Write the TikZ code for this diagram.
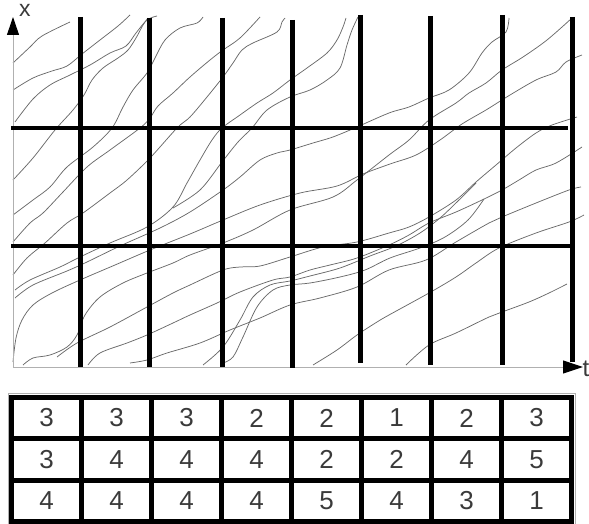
\documentclass[tikz,border=0pt]{standalone}
\usepackage{fontspec}
\setmainfont{Liberation Sans}
\usetikzlibrary{arrows.meta}
\definecolor{txt}{HTML}{3A3A3A}
\definecolor{crv}{HTML}{6A6A6A}
\definecolor{axc}{HTML}{B0B0B0}
\begin{document}
\begin{tikzpicture}[x=1pt,y=-1pt,
  crvline/.style={draw=crv,line width=0.75pt,smooth,tension=0.55},
  thickv/.style={draw=black,line width=5pt},
  thickh/.style={draw=black,line width=4.5pt},
  cell/.style={draw=black,line width=5pt,minimum width=70pt,minimum height=41.5pt,
    inner sep=0pt,font=\fontsize{26}{26}\selectfont,text=txt,anchor=center}]
\useasboundingbox (0,0) rectangle (589,524);
% curves
\draw[crvline] plot coordinates {(13,63) (30,47) (42,36) (70,22)};
\draw[crvline] plot coordinates {(13,90) (33,78) (52,71) (67,66) (82,54) (100,40) (118,26) (130,15)};
\draw[crvline] plot coordinates {(15,122) (33,99) (50,85) (70,75) (90,65) (110,53) (126,46) (136,33) (147,20) (157,16)};
\draw[crvline] plot coordinates {(13,180) (33,158) (55,130) (73,110) (84,95) (92,80) (103,68) (118,58) (128,50) (136,38) (143,25) (148,18)};
\draw[crvline] plot coordinates {(13,215) (33,200) (50,187) (67,167) (93,147) (112,128) (123,107) (133,90) (147,73) (155,58) (165,40) (180,28) (197,23) (203,17)};
\draw[crvline] plot coordinates {(13,242) (30,223) (43,213) (63,192) (87,167) (110,150) (140,128) (150,118) (158,106) (173,93) (190,77) (210,60) (223,50) (240,38) (260,17)};
\draw[crvline] plot coordinates {(13,275) (27,258) (45,243) (67,223) (83,213) (110,193) (127,180) (150,158) (177,128) (190,117) (207,97) (223,77) (233,63) (242,50) (253,43) (277,32) (282,22) (285,18)};
\draw[crvline] plot coordinates {(15,290) (30,280) (60,267) (80,257) (110,243) (147,227) (173,207) (187,183) (200,160) (212,140) (222,128) (240,115) (257,103) (273,93) (290,80) (307,68) (327,53) (337,40) (343,27) (346,18)};
\draw[crvline] plot coordinates {(173,208) (200,190) (222,162) (238,142) (252,128) (267,110) (290,97) (310,90) (327,80) (340,68) (347,45) (352,30) (358,17)};
\draw[crvline] plot coordinates {(15,298) (33,285) (67,271) (87,262) (120,246) (160,228) (190,212) (223,190) (240,177) (260,160) (277,153) (290,150) (313,143) (330,138) (343,133) (357,127) (389,113) (409,107) (429,98) (449,90) (469,73) (482,53) (492,42) (506,32) (509,18)};
\draw[crvline] plot coordinates {(23,365) (33,358) (50,355) (67,347) (77,335) (85,315) (100,297) (123,283) (147,273) (173,263) (190,255) (223,243) (253,230) (290,210) (333,197) (357,180) (389,155) (409,140) (429,120) (456,103) (469,93) (486,83) (502,70) (523,57) (547,40) (572,18)};
\draw[crvline] plot coordinates {(13,362) (16,338) (22,320) (33,305) (52,293) (80,280) (115,265) (150,250) (190,234) (223,220) (260,205) (300,193) (337,186) (363,174) (390,164) (416,155) (440,140) (462,124) (486,110) (510,95) (536,80) (556,72) (566,62) (582,55)};
\draw[crvline] plot coordinates {(57,357) (77,343) (110,327) (147,307) (173,293) (190,285) (223,270) (240,267) (260,266) (290,257) (323,247) (357,242) (389,233) (409,227) (429,217) (456,200) (476,182) (496,165) (516,148) (536,133) (552,125) (577,117)};
\draw[crvline] plot coordinates {(88,365) (100,353) (127,343) (147,335) (173,323) (190,315) (217,303) (240,292) (273,280) (290,277) (310,270) (330,265) (357,258) (389,245) (409,235) (429,223) (456,212) (482,200) (502,190) (519,180) (536,170) (556,163) (582,147)};
\draw[crvline] plot coordinates {(130,363) (147,360) (167,353) (200,343) (230,330) (260,318) (290,305) (320,298) (357,287) (389,270) (426,260) (456,242) (489,223) (502,217) (536,203) (569,190) (581,187)};
\draw[crvline] plot coordinates {(203,365) (223,347) (240,320) (253,297) (270,285) (290,281) (310,276) (340,268) (370,256) (396,246) (420,233) (440,218) (458,201) (476,183)};
\draw[crvline] plot coordinates {(223,363) (233,357) (243,337) (257,307) (273,290) (290,285) (310,283) (340,277) (365,270) (390,258) (420,248) (445,237) (468,220) (484,199)};
\draw[crvline] plot coordinates {(313,365) (337,350) (357,335) (377,322) (389,315) (429,293) (456,277) (476,263) (499,248) (536,233) (569,222) (584,215)};
\draw[crvline] plot coordinates {(406,365) (429,345) (456,333) (489,317) (502,312) (529,302) (549,293) (567,284)};
% axes
\coordinate (o) at (13,367);
\coordinate (xtop) at (13,17);
\coordinate (tend) at (583,367);
\draw[axc,line width=1pt,-{Triangle[length=18pt,width=12pt,color=black]}] (o) -- (xtop);
\draw[axc,line width=1pt,-{Triangle[length=20pt,width=13pt,color=black]}] (o) -- (tend);
\node[font=\fontsize{23}{23}\selectfont,text=txt,anchor=base,inner sep=0pt] (xl) at (25,17) {x};
\node[font=\fontsize{24}{24}\selectfont,text=txt,anchor=base west,inner sep=0pt] (tl) at (582.5,376) {t};
% grid
\draw[thickh] (11,128) -- (568,128);
\draw[thickh] (11,246) -- (572,246);
\foreach \x/\t/\b in {80/17/367,149.5/18/367,222/18/367,292/20/368,360/15/363,430/16/365,502.5/15/365,572/17/362}{
  \draw[thickv] (\x,\t) -- (\x,\b);
}
% table
\draw[axc,line width=1pt] (8,393.5) rectangle (575.5,524);
\foreach \r/\y/\vals in {1/418/{3,3,3,2,2,1,2,3},2/459.25/{3,4,4,4,2,2,4,5},3/500.75/{4,4,4,4,5,4,3,1}}{
  \foreach \v [count=\c] in \vals {
    \node[cell] (r\r c\c) at ({11.5+70*(\c-1)+35},\y) {\v};
  }
}
\end{tikzpicture}
\end{document}
